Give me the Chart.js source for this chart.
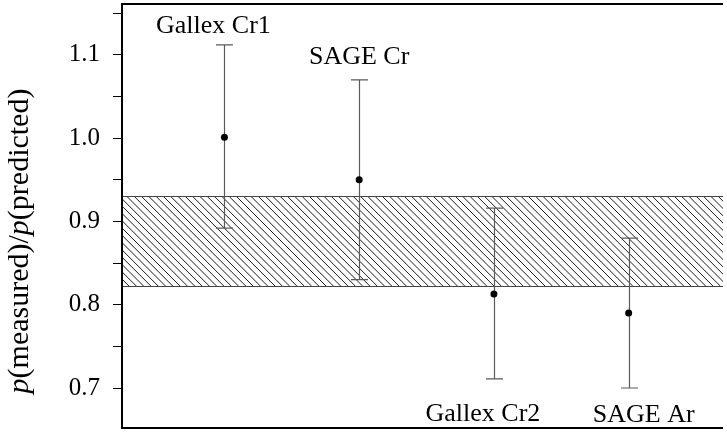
<!DOCTYPE html>
<html lang="en">
  <head>
    <meta charset="UTF-8" />
    <title>Measured / predicted ratio</title>
    <script src="https://cdn.jsdelivr.net/npm/chart.js"></script>
    <style>
      body { margin: 0; background: #fff; }
      #wrap { width: 727px; height: 432px; }
    </style>
  </head>
  <body>
    <div id="wrap"><canvas id="ratioChart"></canvas></div>

    <script>
    // data
    const experiments = ['Gallex Cr1', 'SAGE Cr', 'Gallex Cr2', 'SAGE Ar'];
    const xPos = [1, 2, 3, 4];
    const ratio = [1.001, 0.950, 0.813, 0.790];
    const errHigh = [1.112, 1.070, 0.916, 0.880];
    const errLow = [0.892, 0.830, 0.711, 0.700];
    const band = [0.822, 0.930];
    const majorTicks = [0.7, 0.8, 0.9, 1.0, 1.1];
    const minorTicks = [0.75, 0.85, 0.95, 1.05, 1.15];

    // where each name sits relative to its error bar
    const labelSide = ['above', 'above', 'below', 'below'];
    const labelShift = [-11, 0, -11, 15];
    const labelGap = [12, 16, 42, 34];

    const serif = '"Liberation Serif", "Times New Roman", serif';

    const hatchBand = {
        id: 'hatchBand',
        beforeDatasetsDraw(chart) {
            const {ctx, chartArea: {left, right}, scales: {y}} = chart;
            const yTop = y.getPixelForValue(band[1]);
            const yBot = y.getPixelForValue(band[0]);
            const h = yBot - yTop;
            ctx.save();
            ctx.beginPath();
            ctx.rect(left, yTop, right - left, h);
            ctx.clip();
            ctx.strokeStyle = '#000';
            ctx.lineWidth = 0.9;
            ctx.beginPath();
            for (let x = left - h; x < right + 8; x += 7.3) {
                ctx.moveTo(x, yTop);
                ctx.lineTo(x + h, yBot);
            }
            ctx.stroke();
            ctx.restore();

            ctx.save();
            ctx.strokeStyle = '#444';
            ctx.lineWidth = 1;
            ctx.beginPath();
            ctx.moveTo(left, Math.round(yTop) + 0.5);
            ctx.lineTo(right, Math.round(yTop) + 0.5);
            ctx.moveTo(left, Math.round(yBot) + 0.5);
            ctx.lineTo(right, Math.round(yBot) + 0.5);
            ctx.stroke();
            ctx.restore();

            // error bars
            ctx.save();
            ctx.strokeStyle = '#5a5a5a';
            ctx.lineWidth = 1.2;
            ctx.beginPath();
            xPos.forEach((xv, i) => {
                const px = Math.round(chart.scales.x.getPixelForValue(xv)) + 0.5;
                const hi = y.getPixelForValue(errHigh[i]);
                const lo = y.getPixelForValue(errLow[i]);
                ctx.moveTo(px, hi);
                ctx.lineTo(px, lo);
                ctx.moveTo(px - 8.5, hi);
                ctx.lineTo(px + 8.5, hi);
                ctx.moveTo(px - 8.5, lo);
                ctx.lineTo(px + 8.5, lo);
            });
            ctx.stroke();
            ctx.restore();
        },
        afterDraw(chart) {
            const {ctx, chartArea: {left, right, top, bottom}, scales: {x, y}} = chart;
            ctx.save();
            // frame: left, top, bottom (right side runs off the page)
            ctx.strokeStyle = '#000';
            ctx.lineWidth = 2;
            ctx.beginPath();
            ctx.moveTo(right, top);
            ctx.lineTo(left, top);
            ctx.lineTo(left, bottom);
            ctx.lineTo(right, bottom);
            ctx.stroke();

            // experiment names
            ctx.fillStyle = '#000';
            ctx.font = '26px ' + serif;
            ctx.textAlign = 'center';
            ctx.textBaseline = 'alphabetic';
            experiments.forEach((name, i) => {
                const px = x.getPixelForValue(xPos[i]) + labelShift[i];
                const py = labelSide[i] === 'above'
                    ? y.getPixelForValue(errHigh[i]) - labelGap[i]
                    : y.getPixelForValue(errLow[i]) + labelGap[i];
                ctx.fillText(name, px, py);
            });

            // axis title with italic p
            const parts = [
                ['p', true], ['(measured)/', false], ['p', true], ['(predicted)', false]
            ];
            const fontFor = it => (it ? 'italic ' : '') + '30px ' + serif;
            let total = 0;
            parts.forEach(([t, it]) => { ctx.font = fontFor(it); total += ctx.measureText(t).width; });
            ctx.translate(28, 241);
            ctx.rotate(-Math.PI / 2);
            ctx.textAlign = 'left';
            let pos = -total / 2;
            parts.forEach(([t, it]) => {
                ctx.font = fontFor(it);
                ctx.fillText(t, pos, 0);
                pos += ctx.measureText(t).width;
            });
            ctx.restore();
        }
    };

    const allTicks = majorTicks.concat(minorTicks).sort((a, b) => a - b);

    new Chart(document.getElementById('ratioChart'), {
        type: 'scatter',
        data: {
            datasets: [{
                data: xPos.map((xv, i) => ({x: xv, y: ratio[i]})),
                pointRadius: 3.5,
                pointBackgroundColor: '#000',
                pointBorderWidth: 0,
                showLine: false,
            }]
        },
        options: {
            responsive: true,
            maintainAspectRatio: false,
            animation: false,
            layout: {padding: {top: 3, bottom: 3, left: 0, right: 0}},
            plugins: {legend: {display: false}, tooltip: {enabled: false}},
            scales: {
                x: {type: 'linear', display: false, min: 0.24, max: 4.70},
                y: {
                    min: 0.652,
                    max: 1.161,
                    afterFit(scale) {
                        scale.width = 122;
                        scale.paddingTop = 0;
                        scale.paddingBottom = 0;
                    },
                    afterBuildTicks(scale) {
                        scale.ticks = allTicks.map(v => ({value: v}));
                    },
                    border: {display: false},
                    grid: {
                        drawOnChartArea: false,
                        drawTicks: true,
                        tickLength: 9,
                        color: '#000',
                        lineWidth: 1,
                    },
                    ticks: {
                        padding: 13,
                        color: '#000',
                        font: {family: serif, size: 25},
                        callback: v => majorTicks.some(m => Math.abs(m - v) < 1e-6) ? v.toFixed(1) : '',
                    },
                },
            },
        },
        plugins: [hatchBand],
    });
    </script>
  </body>
</html>
